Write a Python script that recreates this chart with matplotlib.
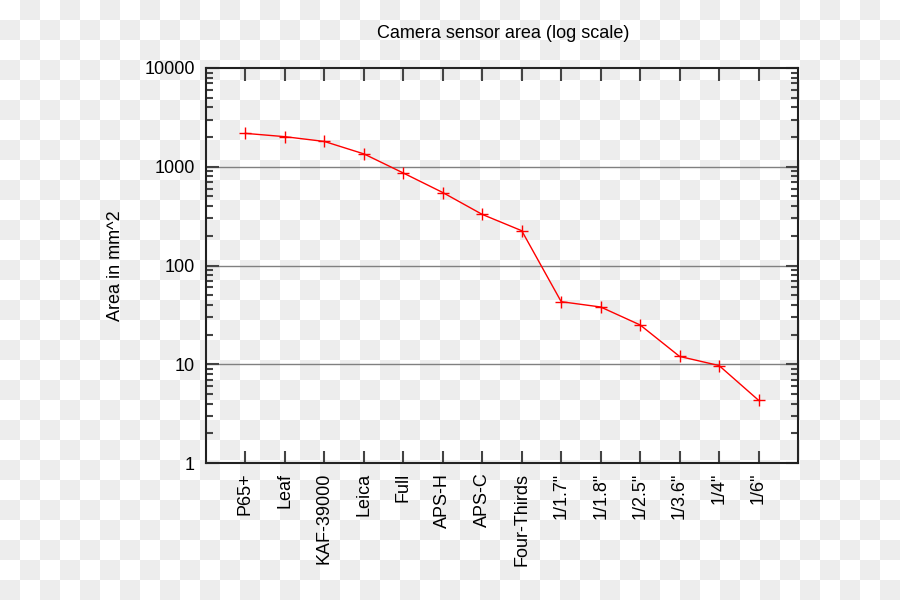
import numpy as np
import matplotlib
matplotlib.use("Agg")
import matplotlib.pyplot as plt
from matplotlib.ticker import LogLocator, NullFormatter, FixedLocator

# sensor formats and their areas in mm^2
sensors = ["P65+", "Leaf", "KAF-39000", "Leica", "Full", "APS-H", "APS-C",
           "Four-Thirds", '1/1.7"', '1/1.8"', '1/2.5"', '1/3.6"', '1/4"', '1/6"']
areas = [2178, 2016, 1803, 1350, 864, 548, 329, 225, 43, 38, 25, 12, 9.7, 4.32]
y_ticks = [1, 10, 100, 1000, 10000]

plt.rcParams["font.family"] = ["Liberation Sans", "DejaVu Sans"]
plt.rcParams["font.size"] = 13

fig = plt.figure(figsize=(9, 6), dpi=100)

# transparent-looking checkerboard backdrop
h, w, sq = 600, 900, 20
yy, xx = np.mgrid[0:h, 0:w]
checker = ((yy // sq + xx // sq) % 2).astype(float)
bg = np.where(checker[..., None] == 1, 0.93, 1.0) * np.ones((h, w, 3))
fig.figimage(bg, xo=0, yo=0, origin="upper", zorder=-10)
fig.patch.set_alpha(0)

ax = fig.add_axes([206 / 900, 1 - 463 / 600, 592 / 900, 395 / 600])
ax.set_facecolor("none")

x = np.arange(1, len(sensors) + 1)
ax.plot(x, areas, color="red", lw=1.0, marker="+", markersize=9, mew=1.0)

ax.set_yscale("log")
ax.set_ylim(1, 10000)
ax.set_xlim(0, len(sensors) + 1)

ax.yaxis.set_major_locator(FixedLocator(y_ticks))
ax.set_yticklabels([str(v) for v in y_ticks])
ax.yaxis.set_minor_locator(LogLocator(base=10, subs=np.arange(2, 10)))
ax.yaxis.set_minor_formatter(NullFormatter())
ax.set_xticks(x)
ax.set_xticklabels(sensors, rotation=90, va="top")

for v in y_ticks[1:-1]:
    ax.axhline(v, color="#808080", lw=1.0, zorder=0)

ax.tick_params(axis="both", which="major", direction="in", length=9, width=1.5,
               color="#444444", top=True, right=True, labelsize=13, pad=7)
ax.tick_params(axis="y", which="major", pad=8)
ax.tick_params(axis="y", which="minor", direction="in", length=5, width=1.5,
               color="#444444", right=True)
for s in ax.spines.values():
    s.set_linewidth(1.5)
    s.set_color("#222222")

ax.set_ylabel("Area in mm^2", fontsize=13, labelpad=15)
fig.text(503 / 900, 1 - 34 / 600, "Camera sensor area (log scale)",
         ha="center", va="center", fontsize=13)

fig.savefig("out.png", dpi=100)
